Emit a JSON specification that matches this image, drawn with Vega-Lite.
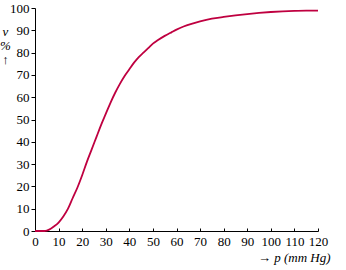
{
  "$schema": "https://vega.github.io/schema/vega-lite/v6.json",
  "width": 283,
  "height": 223,
  "autosize": {"type": "none"},
  "padding": {"left": 35, "top": 8, "right": 28, "bottom": 39},
  "background": "white",
  "config": {
    "view": {"stroke": null},
    "font": "Liberation Serif",
    "axis": {
      "grid": false,
      "domainColor": "black",
      "tickColor": "black",
      "labelColor": "black",
      "titleColor": "black",
      "labelFont": "Liberation Serif",
      "titleFont": "Liberation Serif",
      "labelFontSize": 13,
      "titleFontSize": 13,
      "titleFontWeight": "normal"
    }
  },
  "data": {
    "values": [
      {"p": 0, "v": 0}, {"p": 2, "v": 0}, {"p": 4, "v": 0}, {"p": 5, "v": 0.2},
      {"p": 6, "v": 0.6}, {"p": 8, "v": 2}, {"p": 10, "v": 3.8}, {"p": 12, "v": 6.5},
      {"p": 14, "v": 10}, {"p": 16, "v": 14.8}, {"p": 18, "v": 19.5}, {"p": 20, "v": 25},
      {"p": 22, "v": 31}, {"p": 24, "v": 36.5}, {"p": 26, "v": 42}, {"p": 28, "v": 47.5},
      {"p": 30, "v": 52.5}, {"p": 32, "v": 57.5}, {"p": 34, "v": 62}, {"p": 36, "v": 66},
      {"p": 38, "v": 69.5}, {"p": 40, "v": 72.5}, {"p": 42, "v": 75.5}, {"p": 44, "v": 78},
      {"p": 46, "v": 80}, {"p": 48, "v": 82}, {"p": 50, "v": 84}, {"p": 52, "v": 85.5},
      {"p": 55, "v": 87.5}, {"p": 58, "v": 89.2}, {"p": 60, "v": 90.3}, {"p": 63, "v": 91.7},
      {"p": 66, "v": 92.8}, {"p": 70, "v": 94}, {"p": 75, "v": 95.2}, {"p": 80, "v": 96},
      {"p": 85, "v": 96.7}, {"p": 90, "v": 97.3}, {"p": 95, "v": 97.8}, {"p": 100, "v": 98.2},
      {"p": 105, "v": 98.5}, {"p": 110, "v": 98.7}, {"p": 115, "v": 98.8}, {"p": 120, "v": 98.8}
    ]
  },
  "mark": {"type": "line", "color": "#bf0040", "strokeWidth": 1.8, "interpolate": "monotone"},
  "encoding": {
    "x": {
      "field": "p", "type": "quantitative",
      "scale": {"domain": [0, 120], "nice": false},
      "axis": {
        "values": [0,10,20,30,40,50,60,70,80,90,100,110,120],
        "tickSize": -3,
        "labelPadding": 7,
        "labelFlush": false,
        "labelOverlap": false,
        "title": "→ p (mm Hg)",
        "titleFontStyle": "italic",
        "titleAnchor": "end",
        "titleAlign": "right",
        "titleBaseline": "alphabetic",
        "titleX": 295,
        "titleY": 30
      }
    },
    "y": {
      "field": "v", "type": "quantitative",
      "scale": {"domain": [0, 100], "nice": false},
      "axis": {
        "values": [0,10,20,30,40,50,60,70,80,90,100],
        "tickSize": 4,
        "labelPadding": 2,
        "labelFlush": false,
        "labelOverlap": false,
        "title": ["v", "%", "↑"],
        "titleFontStyle": "italic",
        "titleAngle": 0,
        "titleAlign": "center",
        "titleBaseline": "top",
        "titleLineHeight": 14,
        "titleX": -30,
        "titleY": 17
      }
    }
  }
}
